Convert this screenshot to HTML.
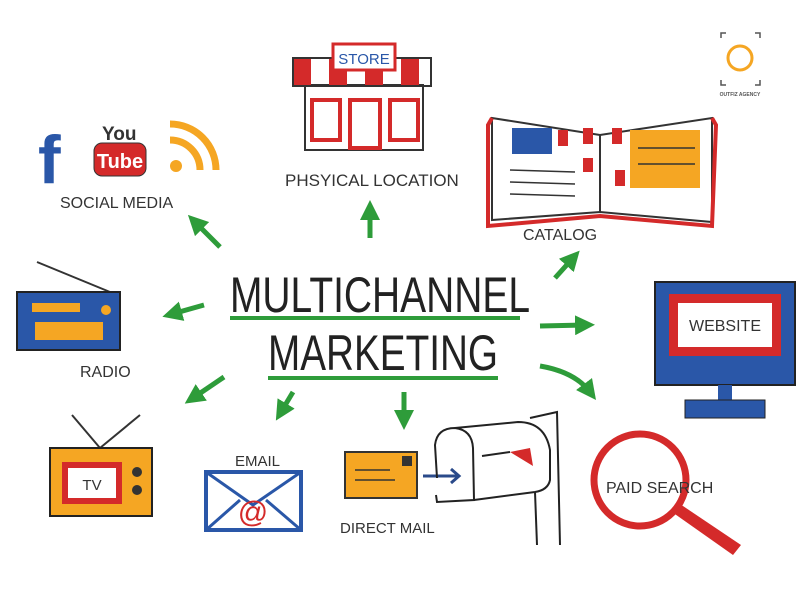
<!DOCTYPE html>
<html><head><style>
html,body{margin:0;padding:0;background:#fff;width:800px;height:600px;overflow:hidden}
svg{display:block}
text{font-family:"Liberation Sans",sans-serif}
</style></head><body>
<svg width="800" height="600" viewBox="0 0 800 600">
<defs>
<marker id="ah" markerWidth="4" markerHeight="4" refX="2" refY="2" orient="auto" markerUnits="strokeWidth"><path d="M0,0 L4,2 L0,4 z" fill="#2e9c3a"/></marker>
</defs>
<!-- logo -->
<g stroke="#555" stroke-width="1.5" fill="none">
<path d="M721,38 v-5 h5 M755,33 h5 v5 M721,80 v5 h5 M755,85 h5 v-5"/>
</g>
<circle cx="740" cy="58" r="12" fill="none" stroke="#f5a623" stroke-width="3"/>
<text x="740" y="96" font-size="5" text-anchor="middle" font-weight="bold" fill="#555">OUTFIZ AGENCY</text>

<!-- store -->
<rect x="305" y="85" width="118" height="65" fill="#fff" stroke="#333" stroke-width="2"/>
<g fill="#d42a2a"><rect x="293" y="58" width="18" height="28"/><rect x="329" y="58" width="18" height="28"/><rect x="365" y="58" width="18" height="28"/><rect x="401" y="58" width="18" height="28"/></g>
<rect x="293" y="58" width="138" height="28" fill="none" stroke="#333" stroke-width="2"/>
<rect x="333" y="44" width="62" height="26" fill="#fff" stroke="#d42a2a" stroke-width="3"/>
<text x="364" y="64" font-size="15" text-anchor="middle" fill="#2a57a8">STORE</text>
<rect x="312" y="100" width="28" height="40" fill="none" stroke="#d42a2a" stroke-width="4"/>
<rect x="350" y="100" width="30" height="48" fill="none" stroke="#d42a2a" stroke-width="4"/>
<rect x="390" y="100" width="28" height="40" fill="none" stroke="#d42a2a" stroke-width="4"/>
<text x="285" y="186" font-size="17" fill="#333">PHSYICAL LOCATION</text>

<!-- social -->
<text x="38" y="183" font-size="68" font-weight="bold" fill="#2a57a8">f</text>
<text x="102" y="140" font-size="19" font-weight="bold" fill="#333">You</text>
<rect x="94" y="143" width="52" height="33" rx="8" fill="#d42a2a" stroke="#333"/>
<text x="120" y="168" font-size="20" font-weight="bold" text-anchor="middle" fill="#fff">Tube</text>
<g fill="none" stroke="#f5a623" stroke-width="7"><path d="M170,140 a30,30 0 0 1 30,30"/><path d="M170,124 a46,46 0 0 1 46,46"/></g>
<circle cx="176" cy="166" r="6" fill="#f5a623"/>
<text x="60" y="208" font-size="16" fill="#333">SOCIAL MEDIA</text>

<!-- radio -->
<line x1="37" y1="262" x2="110" y2="292" stroke="#333" stroke-width="2"/>
<rect x="17" y="292" width="103" height="58" fill="#2a57a8" stroke="#222" stroke-width="2"/>
<rect x="32" y="303" width="48" height="9" fill="#f5a623"/>
<rect x="35" y="322" width="68" height="18" fill="#f5a623"/>
<circle cx="106" cy="310" r="5" fill="#f5a623"/>
<text x="80" y="377" font-size="16" fill="#333">RADIO</text>

<!-- title -->
<text x="230" y="312" font-size="50" fill="#222" textLength="300" lengthAdjust="spacingAndGlyphs">MULTICHANNEL</text>
<line x1="230" y1="318" x2="520" y2="318" stroke="#2e9c3a" stroke-width="4"/>
<text x="268" y="370" font-size="50" fill="#222" textLength="230" lengthAdjust="spacingAndGlyphs">MARKETING</text>
<line x1="268" y1="378" x2="498" y2="378" stroke="#2e9c3a" stroke-width="4"/>

<!-- arrows -->
<g stroke="#2e9c3a" stroke-width="5" fill="none" marker-end="url(#ah)">
<line x1="370" y1="238" x2="370" y2="210"/>
<line x1="220" y1="247" x2="195" y2="222"/>
<line x1="204" y1="305" x2="172" y2="314"/>
<line x1="224" y1="377" x2="193" y2="398"/>
<line x1="293" y1="392" x2="281" y2="412"/>
<line x1="404" y1="392" x2="404" y2="420"/>
<line x1="555" y1="278" x2="573" y2="258"/>
<line x1="540" y1="326" x2="585" y2="325"/>
<path d="M540,366 Q575,372 590,392"/>
</g>

<!-- catalog -->
<path d="M492,118 L600,135 L712,118 L712,222 L600,212 L492,220 Z" fill="#fff" stroke="#333" stroke-width="2"/>
<path d="M492,118 L488,125 L488,226 L600,216 L712,226 L716,125 L712,118" fill="none" stroke="#d42a2a" stroke-width="4"/>
<line x1="600" y1="135" x2="600" y2="212" stroke="#333" stroke-width="2"/>
<rect x="512" y="128" width="40" height="26" fill="#2a57a8"/>
<rect x="558" y="130" width="10" height="16" fill="#d42a2a"/>
<rect x="583" y="128" width="10" height="16" fill="#d42a2a"/>
<rect x="583" y="158" width="10" height="14" fill="#d42a2a"/>
<rect x="612" y="128" width="10" height="16" fill="#d42a2a"/>
<rect x="615" y="170" width="10" height="16" fill="#d42a2a"/>
<rect x="630" y="130" width="70" height="58" fill="#f5a623"/>
<g stroke="#333" stroke-width="1.5"><line x1="510" y1="170" x2="575" y2="172"/><line x1="510" y1="182" x2="575" y2="184"/><line x1="510" y1="194" x2="575" y2="196"/><line x1="638" y1="148" x2="695" y2="148"/><line x1="638" y1="164" x2="695" y2="164"/></g>
<text x="523" y="240" font-size="16" fill="#333">CATALOG</text>

<!-- website -->
<rect x="655" y="282" width="140" height="103" fill="#2a57a8" stroke="#222" stroke-width="2"/>
<rect x="669" y="294" width="112" height="62" fill="#d42a2a"/>
<rect x="678" y="303" width="94" height="44" fill="#fff"/>
<text x="725" y="331" font-size="16" text-anchor="middle" fill="#333">WEBSITE</text>
<rect x="718" y="385" width="14" height="18" fill="#2a57a8"/>
<rect x="685" y="400" width="80" height="18" fill="#2a57a8" stroke="#222"/>

<!-- paid search -->
<circle cx="640" cy="480" r="46" fill="none" stroke="#d42a2a" stroke-width="7"/>
<path d="M672,512 L733,555 L741,545 L680,504 Z" fill="#d42a2a"/>
<text x="606" y="493" font-size="16" fill="#333">PAID SEARCH</text>

<!-- tv -->
<g stroke="#333" stroke-width="2"><line x1="100" y1="448" x2="72" y2="415"/><line x1="100" y1="448" x2="140" y2="415"/></g>
<rect x="50" y="448" width="102" height="68" fill="#f5a623" stroke="#222" stroke-width="2"/>
<rect x="62" y="462" width="60" height="42" fill="#d42a2a"/>
<rect x="68" y="468" width="48" height="30" fill="#fff"/>
<text x="92" y="490" font-size="15" text-anchor="middle" fill="#333">TV</text>
<circle cx="137" cy="472" r="5" fill="#333"/><circle cx="137" cy="490" r="5" fill="#333"/>

<!-- email -->
<text x="235" y="466" font-size="15" fill="#333">EMAIL</text>
<rect x="206" y="472" width="95" height="58" fill="#fff" stroke="#2a57a8" stroke-width="4"/>
<path d="M206,472 L253,505 L301,472 M206,530 L240,500 M301,530 L266,500" fill="none" stroke="#2a57a8" stroke-width="3"/>
<text x="253" y="522" font-size="30" text-anchor="middle" fill="#d42a2a">@</text>

<!-- direct mail -->
<rect x="345" y="452" width="72" height="46" fill="#f5a623" stroke="#333" stroke-width="2"/>
<g stroke="#333" stroke-width="1.5"><line x1="355" y1="470" x2="390" y2="470"/><line x1="355" y1="480" x2="395" y2="480"/></g>
<rect x="402" y="456" width="10" height="10" fill="#333"/>
<line x1="423" y1="476" x2="458" y2="476" stroke="#2a4a8a" stroke-width="3"/>
<path d="M451,469 L459,476 L451,483" fill="none" stroke="#2a4a8a" stroke-width="3"/>
<text x="340" y="533" font-size="15" fill="#333">DIRECT MAIL</text>
<g fill="none" stroke="#222" stroke-width="2">
<path d="M437,478 L435,445 Q437,428 455,428 Q472,430 473,448 L474,500 L437,502 L436,495"/>
<path d="M455,428 L518,422 Q545,422 550,450 L550,480 Q548,490 535,492 L474,500"/>
<path d="M530,418 L557,412 L560,545 M535,492 L537,545"/>
<path d="M482,456 L510,452"/>
</g>
<path d="M510,452 L530,448 L533,466 Z" fill="#d42a2a"/>
</svg>
</body></html>
